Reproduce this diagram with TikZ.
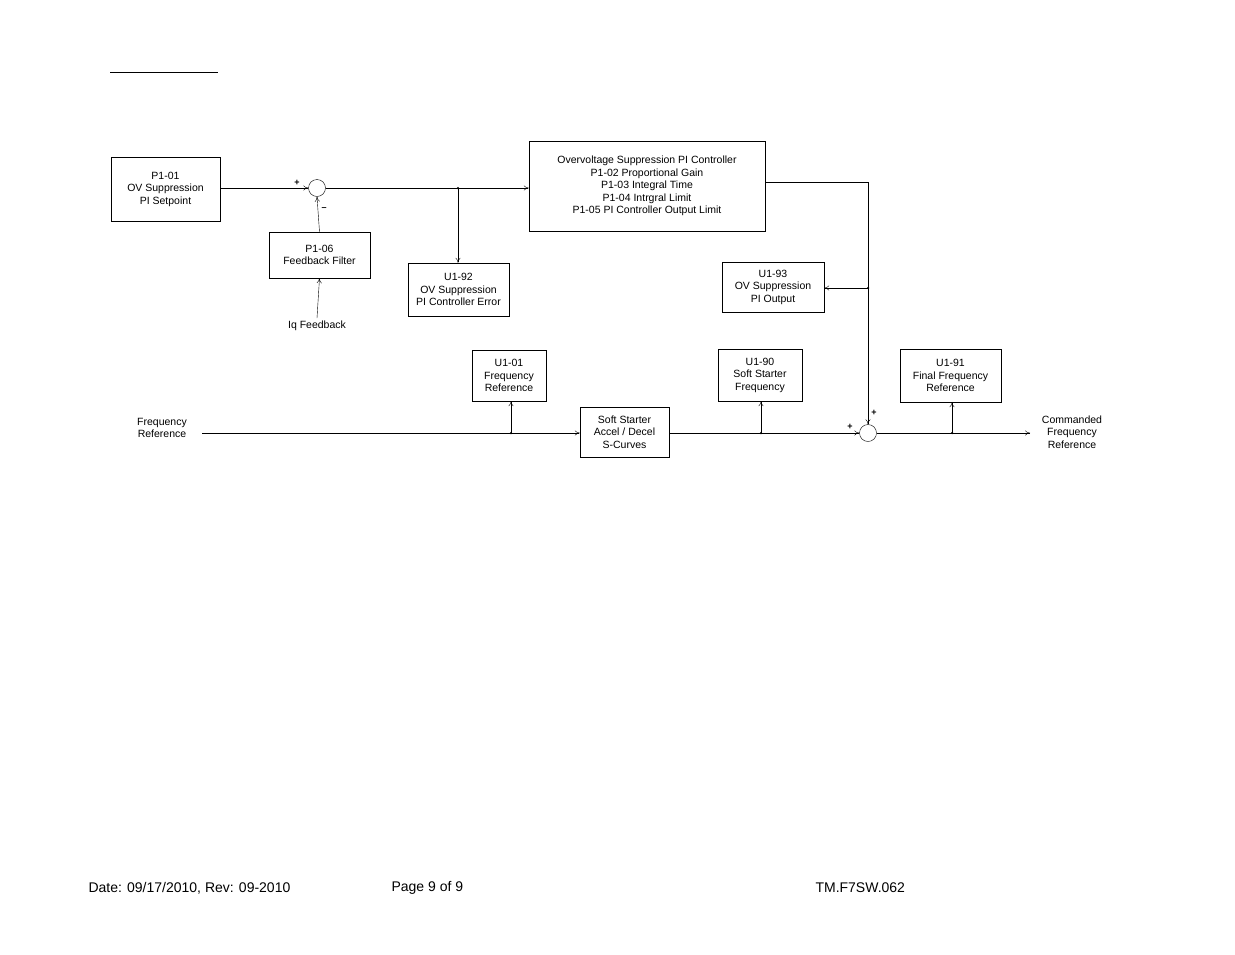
\documentclass[tikz,border=0pt]{standalone}
\usepackage{fontspec}
\setmainfont{Liberation Sans}
\usetikzlibrary{arrows.meta}
\begin{document}
\begin{tikzpicture}[x=1pt,y=-1pt,
  blk/.style={draw,thin,align=center,font=\fontsize{10.5}{12.5}\selectfont,inner sep=0pt},
  lbl/.style={align=center,font=\fontsize{10.5}{12.5}\selectfont},
  sumc/.style={draw,thin,circle,minimum size=17pt,inner sep=0pt},
  arr/.style={thin,-{To[length=5pt,width=5pt]}},
  dot/.style={circle,fill,inner sep=0pt,minimum size=2.5pt},
  foot/.style={font=\fontsize{14}{16}\selectfont,anchor=west}]
\path[use as bounding box] (0,0) rectangle (1235,954);
\draw[thin] (110,72) -- (218,72);
\node[blk,minimum width=109pt,minimum height=64pt] (p101) at (165.5,189) {P1-01\\OV Suppression\\PI Setpoint};
\node[sumc] (s1) at (317,188) {};
\node[lbl,font=\bfseries\small] at (297,183) {+};
\node[lbl,font=\bfseries\small] at (324,209) {--};
\node[blk,minimum width=101pt,minimum height=46pt] (p106) at (319.5,255) {P1-06\\Feedback Filter};
\node[lbl] (iq) at (317,326) {Iq Feedback};
\node[blk,minimum width=236pt,minimum height=90pt] (pi) at (647,186) {Overvoltage Suppression PI Controller\\P1-02 Proportional Gain\\P1-03 Integral Time\\P1-04 Intrgral Limit\\P1-05 PI Controller Output Limit};
\node[blk,minimum width=101pt,minimum height=53pt] (u192) at (458.5,289.5) {U1-92\\OV Suppression\\PI Controller Error};
\node[blk,minimum width=102pt,minimum height=50pt] (u193) at (773,287) {U1-93\\OV Suppression\\PI Output};
\node[blk,minimum width=74pt,minimum height=51pt] (u101) at (509,375.5) {U1-01\\Frequency\\Reference};
\node[blk,minimum width=89pt,minimum height=50pt] (ss) at (624.5,432) {Soft Starter\\Accel / Decel\\S-Curves};
\node[blk,minimum width=84pt,minimum height=52pt] (u190) at (760,375) {U1-90\\Soft Starter\\Frequency};
\node[blk,minimum width=101pt,minimum height=53pt] (u191) at (950.5,375.5) {U1-91\\Final Frequency\\Reference};
\node[sumc] (s2) at (868,433) {};
\node[lbl,font=\bfseries\small] at (850,427) {+};
\node[lbl,font=\bfseries\small] at (874,413) {+};
\node[lbl] (fr) at (162,428) {Frequency\\Reference};
\node[lbl] (cfr) at (1072,432) {Commanded\\Frequency\\Reference};
\coordinate (fin) at (202,433);
\coordinate (fout) at (1030,433);
\coordinate (j1) at (458,188);
\coordinate (j2) at (868,288);
\coordinate (j3) at (511,433);
\coordinate (j4) at (761,433);
\coordinate (j5) at (952,433);
\coordinate (pc) at (868,182);
\coordinate (iqt) at (317,318);
\draw[arr] (p101.east |- s1) -- (s1);
\draw[arr] (iqt) -- (p106.south);
\draw[arr] (p106.north) -- (s1.south);
\draw[arr] (s1.east) -- (pi.west |- s1);
\draw[arr] (j1) -- (j1 |- u192.north);
\draw[thin] (pi.east |- pc) -- (pc);
\draw[arr] (pc) -- (s2.north);
\draw[arr] (j2) -- (u193.east |- j2);
\draw[arr] (fin) -- (ss.west |- fin);
\draw[arr] (j3) -- (j3 |- u101.south);
\draw[arr] (ss.east |- s2) -- (s2.west);
\draw[arr] (j4) -- (j4 |- u190.south);
\draw[arr] (s2.east) -- (fout);
\draw[arr] (j5) -- (j5 |- u191.south);
\foreach \j in {j1,j2,j3,j4,j5} \node[dot] at (\j) {};
\node[foot] at (85,888) {Date: 09/17/2010, Rev: 09-2010};
\node[foot] at (388,888) {Page 9 of 9};
\node[foot] at (812,888) {TM.F7SW.062};
\end{tikzpicture}
\end{document}
